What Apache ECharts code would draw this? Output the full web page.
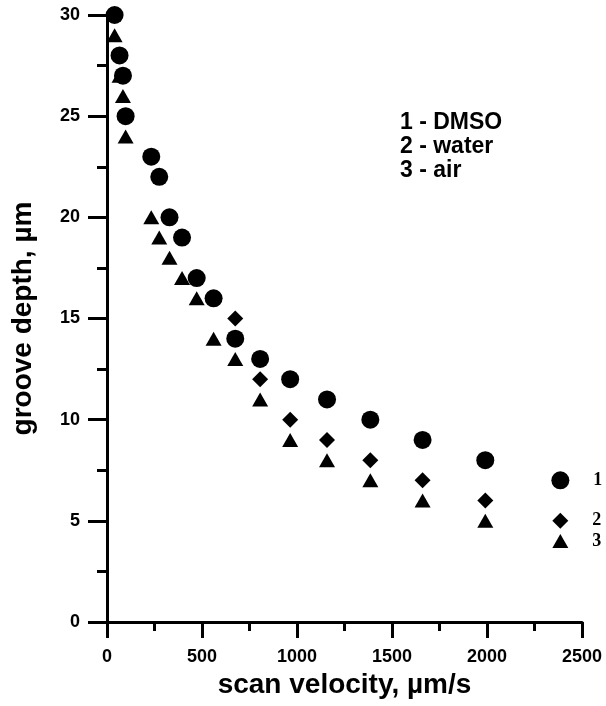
<!DOCTYPE html>
<html>
<head>
<meta charset="utf-8">
<script src="https://cdn.jsdelivr.net/npm/echarts@6/dist/echarts.min.js"></script>
<style>html,body{margin:0;padding:0;background:#fff}#c{width:606px;height:706px}</style>
</head>
<body>
<div id="c"></div>
<script>
// Data (x: scan velocity µm/s, y: groove depth µm)
const dmsoVel   = [40, 66, 84, 98, 233, 275, 329, 395, 472, 561, 675, 806, 964, 1158, 1386, 1661, 1991, 2386];
const dmsoDepth = [30, 28, 27, 25, 23, 22, 20, 19, 17, 16, 14, 13, 12, 11, 10, 9, 8, 7];
const waterVel   = [675, 806, 964, 1158, 1386, 1661, 1991, 2386];
const waterDepth = [15, 12, 10, 9, 8, 7, 6, 5];
const airVel   = [40, 66, 84, 98, 233, 275, 329, 395, 472, 561, 675, 806, 964, 1158, 1386, 1661, 1991, 2386];
const airDepth = [29, 27, 26, 24, 20, 19, 18, 17, 16, 14, 13, 11, 9, 8, 7, 6, 5, 4];
const seriesNames = ['1 - DMSO', '2 - water', '3 - air'];
const seriesTags = ['1', '2', '3'];
const xTicks = [0, 500, 1000, 1500, 2000, 2500];
const yTicks = [0, 5, 10, 15, 20, 25, 30];

function build(vel, depth, tag) {
  return vel.map((v, i) => {
    const item = { value: [v, depth[i]] };
    if (i === vel.length - 1) {
      item.label = {
        show: true, formatter: tag, position: 'right', distance: 24,
        fontFamily: 'Liberation Serif', fontWeight: 'bold', fontSize: 18, color: '#000'
      };
    }
    return item;
  });
}

const chart = echarts.init(document.getElementById('c'), null, { renderer: 'canvas' });
const axisFont = { fontFamily: 'Liberation Sans, Arial', fontWeight: 'bold', color: '#000' };
chart.setOption({
  animation: false,
  backgroundColor: '#fff',
  title: {
    text: seriesNames.join('\n'),
    left: 395, top: 106,
    textStyle: { fontFamily: 'Liberation Sans, Arial', fontWeight: 'bold', fontSize: 23, lineHeight: 24, color: '#000' }
  },
  grid: { left: 107, right: 24, top: 15, bottom: 84, containLabel: false },
  xAxis: {
    type: 'value', min: xTicks[0], max: xTicks[xTicks.length - 1], interval: 500,
    name: 'scan velocity, µm/s', nameLocation: 'middle', nameGap: 40,
    nameTextStyle: Object.assign({ fontSize: 28 }, axisFont),
    axisLine: { show: true, onZero: false, lineStyle: { color: '#000', width: 3 } },
    axisTick: { show: true, inside: false, length: 16, lineStyle: { color: '#000', width: 3 } },
    minorTick: { show: true, splitNumber: 2, length: 9, lineStyle: { color: '#000', width: 3 } },
    axisLabel: Object.assign({ fontSize: 18, margin: 26, formatter: v => String(v) }, axisFont),
    splitLine: { show: false }
  },
  yAxis: {
    type: 'value', min: yTicks[0], max: yTicks[yTicks.length - 1], interval: 5,
    name: 'groove depth, µm', nameLocation: 'middle', nameGap: 70, nameRotate: 90,
    nameTextStyle: Object.assign({ fontSize: 28 }, axisFont),
    axisLine: { show: true, onZero: false, lineStyle: { color: '#000', width: 3 } },
    axisTick: { show: true, inside: false, length: 19, lineStyle: { color: '#000', width: 3 } },
    minorTick: { show: true, splitNumber: 2, length: 10, lineStyle: { color: '#000', width: 3 } },
    axisLabel: Object.assign({ fontSize: 18, margin: 27, formatter: v => String(v) }, axisFont),
    splitLine: { show: false }
  },
  series: [
    { name: seriesNames[0], type: 'scatter', symbol: 'circle', symbolSize: 18,
      itemStyle: { color: '#000', opacity: 1 }, data: build(dmsoVel, dmsoDepth, seriesTags[0]), z: 3 },
    { name: seriesNames[1], type: 'scatter', symbol: 'diamond', symbolSize: [16, 16],
      itemStyle: { color: '#000', opacity: 1 }, data: build(waterVel, waterDepth, seriesTags[1]), z: 3 },
    { name: seriesNames[2], type: 'scatter', symbol: 'triangle', symbolSize: [16, 14],
      itemStyle: { color: '#000', opacity: 1 }, data: build(airVel, airDepth, seriesTags[2]), z: 2 }
  ]
});
</script>
</body>
</html>
